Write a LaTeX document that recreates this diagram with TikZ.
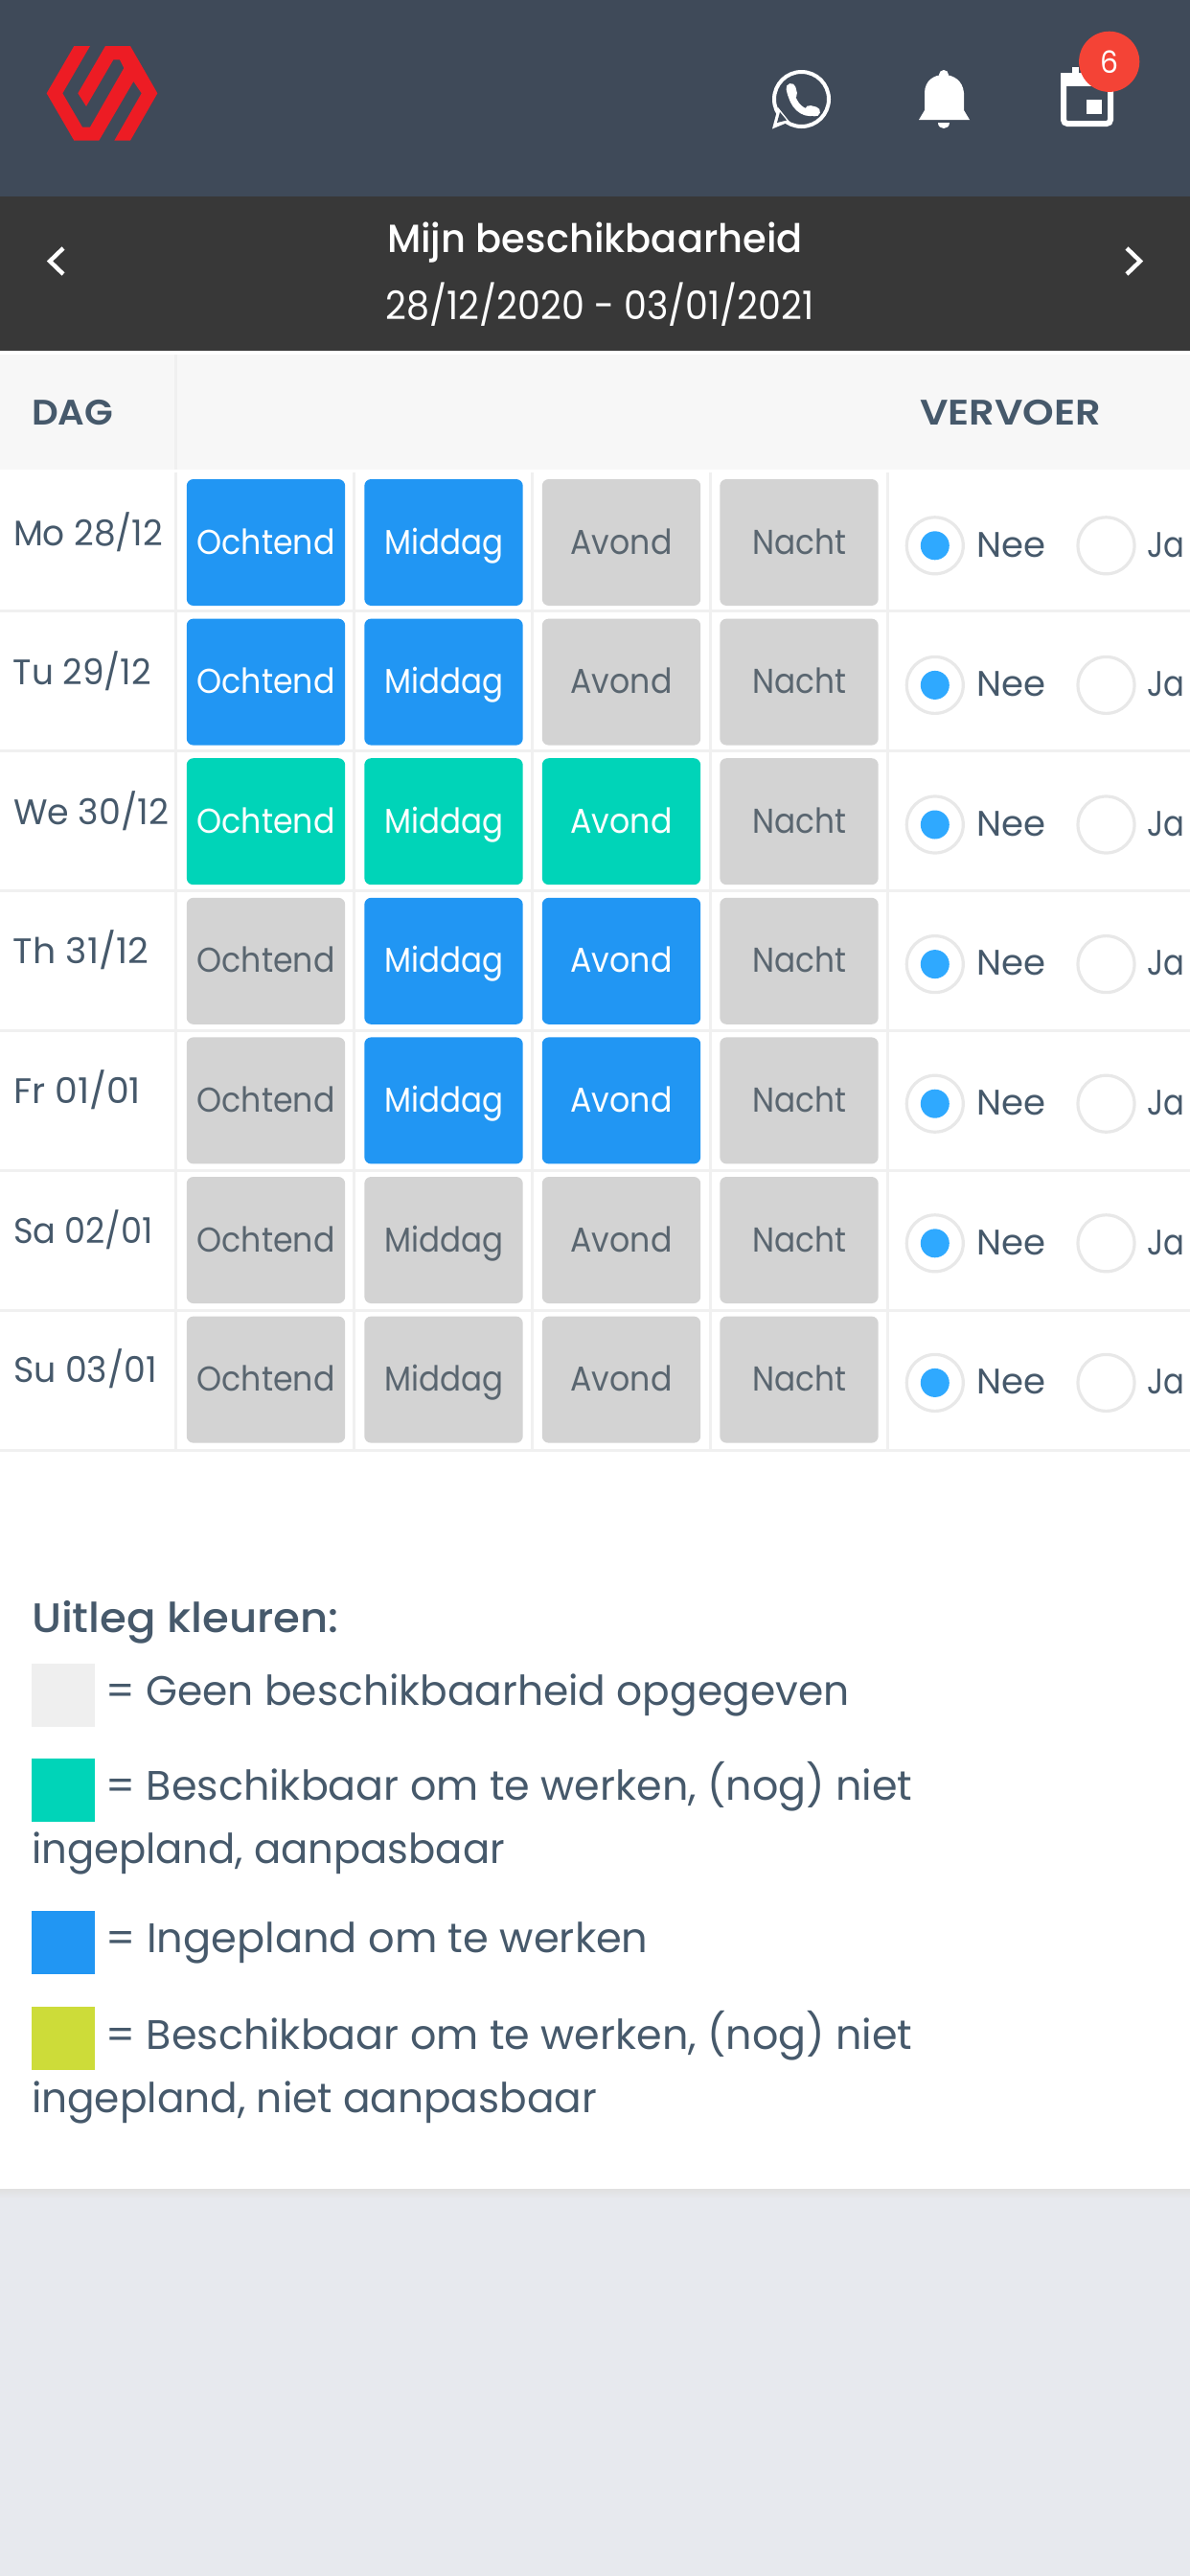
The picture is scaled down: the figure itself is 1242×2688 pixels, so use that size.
\documentclass[tikz,border=0pt]{standalone}
\usepackage{fontspec}
\usepackage{graphicx}
\setmainfont{Poppins}
\newfontfamily\medf{Poppins Medium}
\newfontfamily\boldf{Poppins SemiBold}
\usetikzlibrary{shadings}
\definecolor{headbg}{HTML}{3F4A59}
\definecolor{barbg}{HTML}{383838}
\definecolor{thbg}{HTML}{F7F7F7}
\definecolor{rule}{HTML}{F0F0F0}
\definecolor{inktxt}{HTML}{46596B}
\definecolor{colB}{HTML}{2196F3}
\definecolor{colG}{HTML}{00D4B8}
\definecolor{colN}{HTML}{D3D3D3}
\definecolor{txtB}{HTML}{FFFFFF}
\definecolor{txtG}{HTML}{FFFFFF}
\definecolor{txtN}{HTML}{5A6670}
\definecolor{pagebg}{HTML}{E7E9EE}
\definecolor{radiodot}{HTML}{2FA9FF}
\definecolor{radioedge}{HTML}{E8E8E8}
\definecolor{logored}{HTML}{ED1C24}
\definecolor{badgered}{HTML}{F44336}
\definecolor{swgrey}{HTML}{EFEFEF}
\definecolor{swlime}{HTML}{CDDC39}
\newcommand\fitw[2]{\resizebox{#1pt}{\height}{#2}}
\tikzset{
  txt/.style={inner sep=0pt,outer sep=0pt,anchor=base west,text=inktxt},
  ctxt/.style={inner sep=0pt,outer sep=0pt,anchor=base},
  slotbox/.style={draw=none,rectangle,rounded corners=3.5pt,minimum width=82.7pt,minimum height=66pt,inner sep=0pt,outer sep=0pt},
  radiobox/.style={circle,draw=radioedge,line width=1.6pt,fill=white,minimum size=29.5pt,inner sep=0pt,outer sep=0pt},
  radiodotn/.style={circle,fill=radiodot,minimum size=15pt,inner sep=0pt,outer sep=0pt},
  swatch/.style={rectangle,minimum width=33pt,minimum height=33pt,inner sep=0pt,outer sep=0pt},
  rulel/.style={draw=rule,line width=1.5pt},
  chev/.style={draw=white,line width=2.2pt,line cap=butt,line join=miter}
}
\begin{document}
\begin{tikzpicture}[x=0.5pt,y=-0.5pt]
\useasboundingbox (0,0) rectangle (1242,2688);
% page
\fill[pagebg] (0,0) rectangle (1242,2688);
\shade[top color=black!12,bottom color=pagebg] (0,2284) rectangle (1242,2294);
\fill[white] (0,366) rectangle (1242,2284);
\fill[headbg] (0,0) rectangle (1242,205);
\fill[barbg] (0,205) rectangle (1242,366);
\fill[thbg] (0,370) rectangle (1242,490);
\draw[rulel] (183.5,370) -- (183.5,490);
% logo
\fill[logored] (232/3,144/3) -- (282/3,144/3) -- (196/3,292/3) -- (258/3,398/3) -- (282/3,398/3) -- (388/3,213/3) -- (375/3,187/3) -- (355/3,187/3) -- (270/3,333/3) -- (244/3,292/3) -- (330/3,144/3) -- (408/3,144/3) -- (493/3,292/3) -- (408/3,440/3) -- (358/3,440/3) -- (443/3,292/3) -- (418/3,255/3) -- (310/3,440/3) -- (232/3,440/3) -- (146/3,292/3) -- cycle;
% whatsapp
\draw[white,line width=2pt] (836.5,103.5) circle (28.5);
\fill[white] (806,134.5) -- (812,112) -- (824,127) -- cycle;
\fill[headbg] (814,117) -- (811,128) -- (821,125.5) -- cycle;
\draw[white,line width=3.6pt,line cap=round] (825,94) .. controls (827,110) and (838,120) .. (850,117);
\draw[white,line width=5pt,line cap=round] (825.5,92) -- (827,98);
\draw[white,line width=5pt,line cap=round] (845,115) -- (851,116.5);
% bell
\fill[white] (985,78) circle (5);
\fill[white] (959,125) -- (965,115) -- (965,97) .. controls (965,84) and (975,78) .. (985,78) .. controls (995,78) and (1005,84) .. (1006,97) -- (1006,115) -- (1012,125) -- cycle;
\fill[white] (979,128) -- (991,128) .. controls (991,136) and (979,136) .. (979,128) -- cycle;
% calendar
\draw[white,line width=3pt,rounded corners=2pt] (1110,79) rectangle (1159,129);
\fill[white] (1107,76) rectangle (1162,90);
\fill[white] (1119,70) rectangle (1126,80);
\fill[white] (1134,104) rectangle (1150,119);
\node[circle,fill=badgered,minimum size=31.6pt,inner sep=0pt,outer sep=0pt] (badge) at (1157.7,64.3) {};
\node[ctxt,text=white,font=\fontsize{16}{16}\selectfont] (badgenum) at (1157.5,76) {\fitw{9.5}{6}};
% chevrons
\coordinate (cla) at (66,259); \coordinate (clb) at (52,272.5); \coordinate (clc) at (66,286);
\draw[chev] (cla) -- (clb) -- (clc);
\coordinate (cra) at (1176,259); \coordinate (crb) at (1190,272.5); \coordinate (crc) at (1176,286);
\draw[chev] (cra) -- (crb) -- (crc);
% title
\node[ctxt,text=white,font=\medf\fontsize{20.5}{20}\selectfont] (title) at (621,263) {\fitw{217}{Mijn beschikbaarheid}};
\node[ctxt,text=white,font=\fontsize{20.5}{20}\selectfont] (dates) at (626,333) {\fitw{223.5}{28/12/2020 - 03/01/2021}};
% table head
\node[txt,font=\boldf\fontsize{18.5}{18}\selectfont] (dag) at (33,443) {\fitw{42.5}{DAG}};
\node[txt,font=\boldf\fontsize{18.5}{18}\selectfont] (vervoer) at (960,443) {\fitw{94.5}{VERVOER}};
% rules
\foreach \x in {183.5,369.5,555,741,926}
  \draw[rulel] (\x,493) -- (\x,1513);
\foreach \r in {0,...,6}
  \draw[rulel] (0,637+146*\r) -- (1242,637+146*\r);
% rows
\foreach \r/\d/\w/\ka/\kb/\kc/\kd in {
  0/{Mo 28/12}/78/B/B/N/N,
  1/{Tu 29/12}/72/B/B/N/N,
  2/{We 30/12}/81/G/G/G/N,
  3/{Th 31/12}/70.5/N/B/B/N,
  4/{Fr 01/01}/66.5/N/B/B/N,
  5/{Sa 02/01}/73/N/N/N/N,
  6/{Su 03/01}/75/N/N/N/N}{
  \node[txt,font=\fontsize{18.5}{18}\selectfont] (day-\r) at (14,569+145.6*\r) {\fitw{\w}{\d}};
  \foreach \c/\k/\n/\tw in {0/\ka/Ochtend/72,1/\kb/Middag/62,2/\kc/Avond/53,3/\kd/Nacht/49}{
    \node[slotbox,fill=col\k] (slot-\r-\c) at (277.5+185.5*\c,566+145.6*\r) {};
    \node[ctxt,text=txt\k,font=\fontsize{18}{18}\selectfont] (lab-\r-\c) at (277.5+185.5*\c,578+145.6*\r) {\fitw{\tw}{\n}};
  }
  \node[radiobox] (nee-\r) at (975.8,569.3+145.6*\r) {};
  \node[radiodotn] (needot-\r) at (975.8,569.3+145.6*\r) {};
  \node[txt,font=\fontsize{18.5}{18}\selectfont] (neetxt-\r) at (1019,581+145.6*\r) {\fitw{36}{Nee}};
  \node[radiobox] (ja-\r) at (1154.5,569.3+145.6*\r) {};
  \node[txt,font=\fontsize{18.5}{18}\selectfont] (jatxt-\r) at (1197,581+145.6*\r) {\fitw{19.5}{Ja}};
}
% legend
\node[txt,font=\medf\fontsize{21.5}{21}\selectfont] (leghead) at (33,1703) {\fitw{160.5}{Uitleg kleuren:}};
\node[swatch,fill=swgrey] (sw1) at (66,1769) {};
\node[swatch,fill=colG] (sw2) at (66,1868) {};
\node[swatch,fill=colB] (sw3) at (66,2027) {};
\node[swatch,fill=swlime] (sw4) at (66,2127) {};
\tikzset{legt/.style={txt,font=\fontsize{21.5}{21}\selectfont}}
\node[legt] (l1) at (110.5,1779) {\fitw{388}{= Geen beschikbaarheid opgegeven}};
\node[legt] (l2) at (110.5,1878.6) {\fitw{421}{= Beschikbaar om te werken, (nog) niet}};
\node[legt] (l2b) at (33,1944) {\fitw{247}{ingepland, aanpasbaar}};
\node[legt] (l3) at (110.5,2037.7) {\fitw{283}{= Ingepland om te werken}};
\node[legt] (l4) at (110.5,2138) {\fitw{421}{= Beschikbaar om te werken, (nog) niet}};
\node[legt] (l4b) at (33,2204) {\fitw{295}{ingepland, niet aanpasbaar}};
\end{tikzpicture}
\end{document}
